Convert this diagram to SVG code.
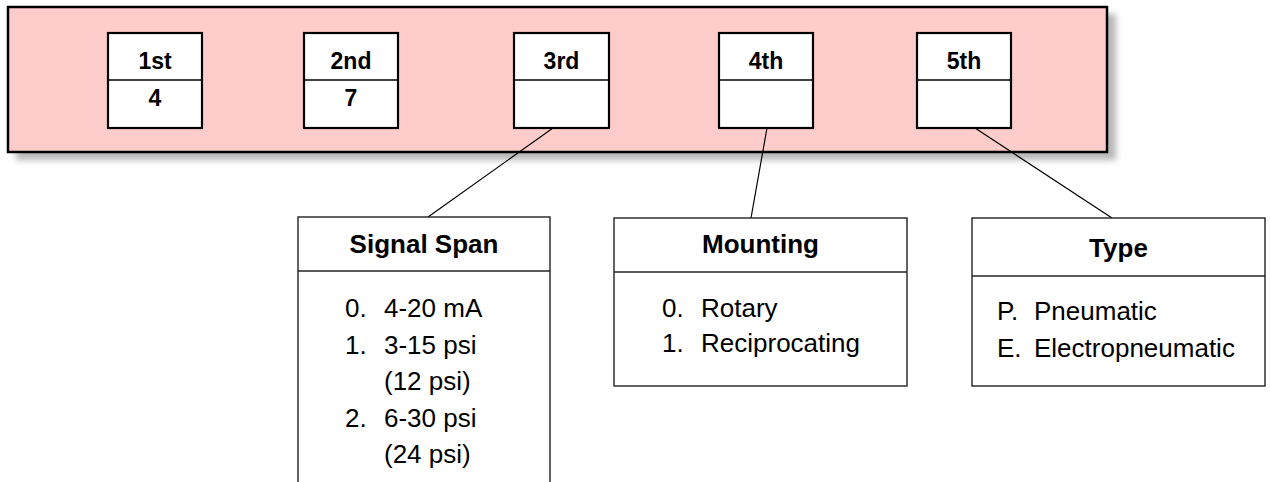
<svg xmlns="http://www.w3.org/2000/svg" width="1270" height="482" viewBox="0 0 1270 482">
<defs>
<filter id="blur" x="-5%" y="-20%" width="110%" height="140%"><feGaussianBlur stdDeviation="3"/></filter>
<style>
.digit{fill:#fff;stroke:#000;stroke-width:2.2}
.dl{stroke:#000;stroke-width:1.5}
.hd{font-family:"Liberation Sans",Arial,sans-serif;font-weight:bold;font-size:23px;text-anchor:middle;fill:#000}
.tbl{fill:#fff;stroke:#222;stroke-width:1.4}
.tl{stroke:#222;stroke-width:1.4}
.th{font-family:"Liberation Sans",Arial,sans-serif;font-weight:bold;font-size:26px;text-anchor:middle;fill:#000}
.it{font-family:"Liberation Sans",Arial,sans-serif;font-size:26px;fill:#000}
.con{stroke:#000;stroke-width:1.2;fill:none}
</style>
</defs>
<g id="frame">
<rect x="16" y="14" width="1100" height="146" fill="#888" opacity="0.6" filter="url(#blur)"/>
<rect x="8" y="7" width="1099" height="145" fill="#FFCCCC" stroke="#000" stroke-width="2.5"/>
</g>
<g id="d1"><rect class="digit" x="108" y="33" width="94" height="95"/><line class="dl" x1="108" y1="80" x2="202" y2="80"/><text class="hd" x="155" y="69">1st</text><text class="hd" x="155" y="106">4</text></g>
<g id="d2"><rect class="digit" x="304" y="33" width="94" height="95"/><line class="dl" x1="304" y1="80" x2="398" y2="80"/><text class="hd" x="351" y="69">2nd</text><text class="hd" x="351" y="106">7</text></g>
<g id="d3"><rect class="digit" x="514" y="33" width="95" height="95"/><line class="dl" x1="514" y1="80" x2="609" y2="80"/><text class="hd" x="561.5" y="69">3rd</text></g>
<g id="d4"><rect class="digit" x="719" y="33" width="94" height="95"/><line class="dl" x1="719" y1="80" x2="813" y2="80"/><text class="hd" x="766" y="69">4th</text></g>
<g id="d5"><rect class="digit" x="917" y="33" width="94" height="95"/><line class="dl" x1="917" y1="80" x2="1011" y2="80"/><text class="hd" x="964" y="69">5th</text></g>
<g id="connectors">
<line class="con" x1="553" y1="128" x2="428" y2="217"/>
<line class="con" x1="767" y1="128" x2="751" y2="218"/>
<line class="con" x1="975" y1="128" x2="1112" y2="218"/>
</g>
<g id="signal">
<rect class="tbl" x="298" y="217" width="252" height="280"/>
<line class="tl" x1="298" y1="271" x2="550" y2="271"/>
<text class="th" x="424" y="253">Signal Span</text>
<text class="it" x="345" y="317">0.</text><text class="it" x="384" y="317">4-20 mA</text>
<text class="it" x="345" y="354">1.</text><text class="it" x="384" y="354">3-15 psi</text>
<text class="it" x="384" y="390">(12 psi)</text>
<text class="it" x="345" y="427">2.</text><text class="it" x="384" y="427">6-30 psi</text>
<text class="it" x="384" y="463">(24 psi)</text>
</g>
<g id="mounting">
<rect class="tbl" x="614" y="218" width="293" height="168"/>
<line class="tl" x1="614" y1="272" x2="907" y2="272"/>
<text class="th" x="760.5" y="253">Mounting</text>
<text class="it" x="662" y="317">0.</text><text class="it" x="701" y="317">Rotary</text>
<text class="it" x="662" y="352">1.</text><text class="it" x="701" y="352">Reciprocating</text>
</g>
<g id="type">
<rect class="tbl" x="972" y="218" width="293" height="168"/>
<line class="tl" x1="972" y1="276" x2="1265" y2="276"/>
<text class="th" x="1118.5" y="257">Type</text>
<text class="it" x="997" y="320">P.</text><text class="it" x="1034" y="320">Pneumatic</text>
<text class="it" x="997" y="357">E.</text><text class="it" x="1034" y="357">Electropneumatic</text>
</g>
</svg>
